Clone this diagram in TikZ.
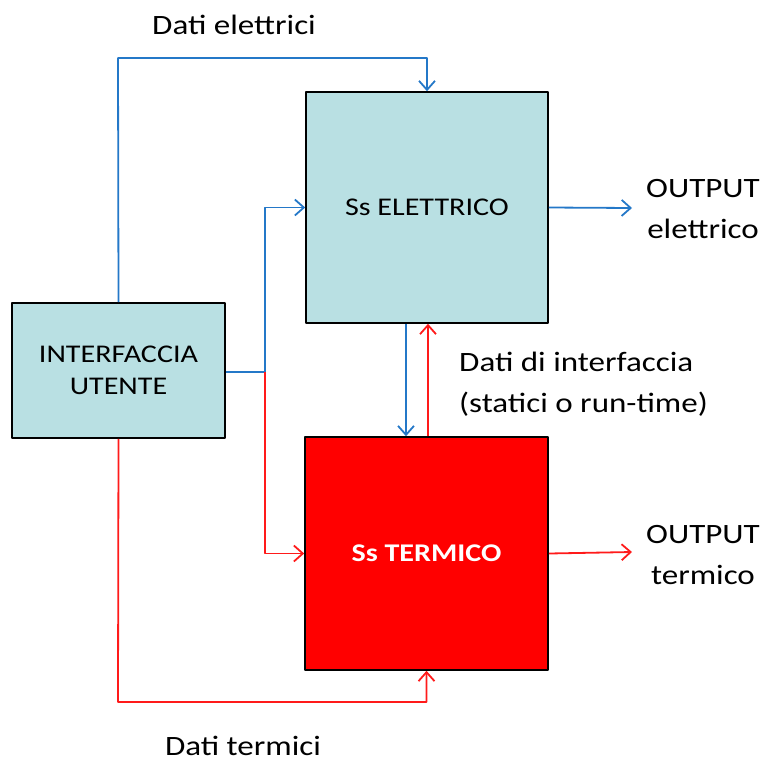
\documentclass[tikz,border=0pt]{standalone}
\usepackage{fontspec}
\setmainfont{Carlito}[FakeStretch=1.18]
\usetikzlibrary{arrows.meta}
\definecolor{boxblue}{HTML}{B9E0E3}
\definecolor{lineblue}{HTML}{2478C8}
\definecolor{linered}{HTML}{FF1A1A}
\begin{document}
\begin{tikzpicture}[x=1pt, y=-1pt, line join=round,
		>={Straight Barb[length=9pt,width=16pt,line width=1.8pt]},
		blk/.style={draw=black, line width=1.6pt, inner sep=0pt, align=center, font=\fontsize{25.5}{32}\selectfont},
		eline/.style={->, draw=lineblue, line width=1.8pt},
		tline/.style={->, draw=linered, line width=1.8pt},
		lbl/.style={font=\fontsize{28}{41}\selectfont, inner sep=0pt}]
	\useasboundingbox (0,0) rectangle (765,763);
	% blocchi
	\node[blk, fill=boxblue, minimum width=213pt, minimum height=135pt] (iface) at (118.5,370.5) {INTERFACCIA\\UTENTE};
	\node[blk, fill=boxblue, minimum width=242pt, minimum height=231pt] (elet) at (427,207.5) {Ss ELETTRICO};
	\node[blk, fill=red, text=white, minimum width=243pt, minimum height=233pt, font=\fontsize{25.5}{32}\selectfont\bfseries] (term) at (426.5,553.5) {Ss TERMICO};
	% etichette
	\node[lbl] (datiE) at (234,25) {Dati elettrici};
	\node[lbl] (datiT) at (243,746) {Dati termici};
	\node[lbl, align=center] (outE) at (703,209) {OUTPUT\\elettrico};
	\node[lbl, align=center] (outT) at (703,555) {OUTPUT\\termico};
	\node[lbl, align=left, anchor=west] (datiI) at (459,384) {Dati di interfaccia\\(statici o run-time)};
	% punti
	\coordinate (split) at (265,372);
	\coordinate (topE) at (118,58);
	\coordinate (botT) at (118,702);
	\coordinate (endE) at (632,208);
	\coordinate (endT) at (632,552);
	% collegamenti
	\draw[eline] (iface.north) -- (topE) -| (elet.north);
	\draw[eline, -] (iface.east |- split) -- (split);
	\draw[eline] (split) |- (elet.west);
	\draw[tline] (split) |- (term.west);
	\draw[tline] (iface.south) -- (botT) -| (term.south);
	\draw[eline] ([xshift=-21pt]elet.south) -- ([xshift=-21pt]elet.south |- term.north);
	\draw[tline] ([xshift=1.5pt]term.north) -- ([xshift=1.5pt]term.north |- elet.south);
	\draw[eline] (elet.east) -- (endE);
	\draw[tline] (term.east) -- (endT);
\end{tikzpicture}
\end{document}
